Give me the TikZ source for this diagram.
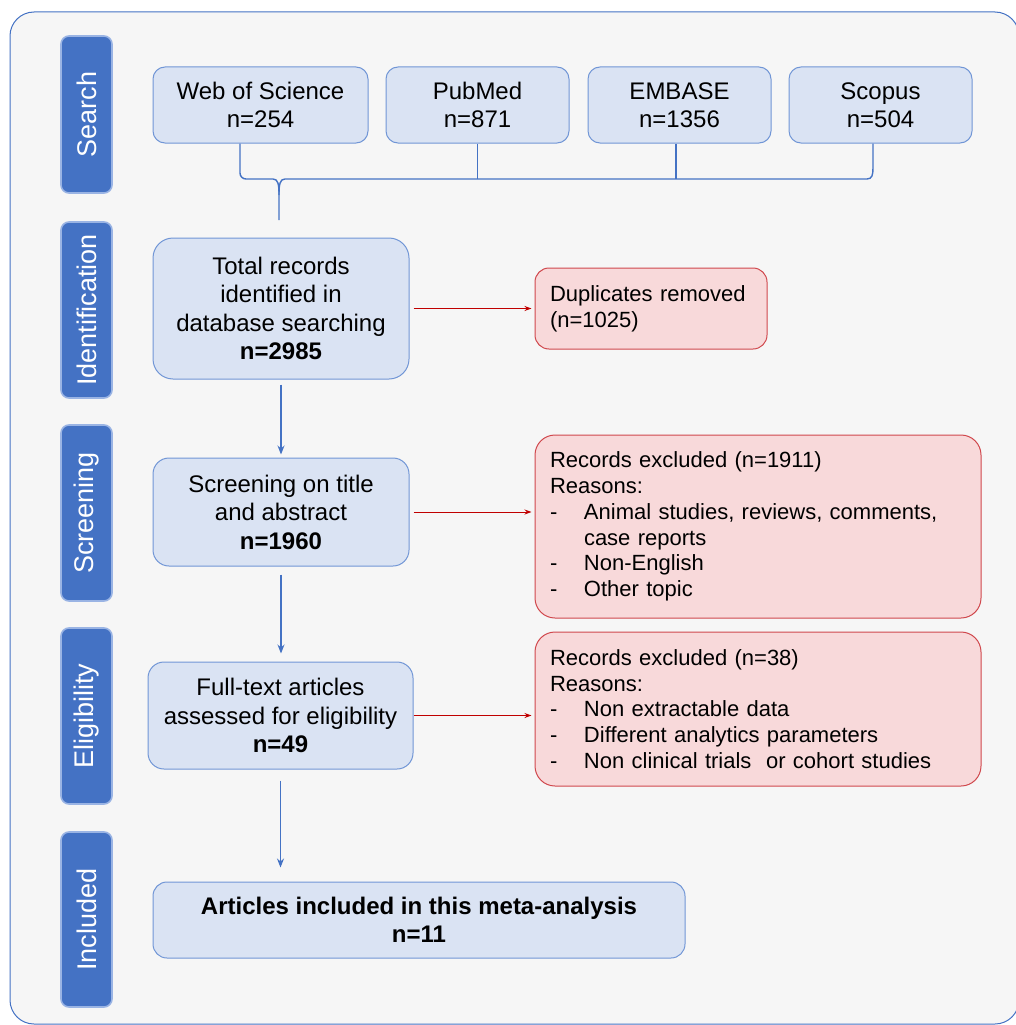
\documentclass[tikz,border=0pt]{standalone}
\usepackage{fontspec}
\setmainfont{Liberation Sans}
\usetikzlibrary{arrows.meta,calc}
\definecolor{bgfill}{HTML}{F6F6F6}
\definecolor{framecol}{HTML}{4472C4}
\definecolor{stagefill}{HTML}{4472C4}
\definecolor{stageglow}{HTML}{9AB4E4}
\definecolor{boxfill}{HTML}{DAE3F3}
\definecolor{boxedge}{HTML}{7196D6}
\definecolor{redfill}{HTML}{F8D9DA}
\definecolor{rededge}{HTML}{D0484D}
\definecolor{redline}{HTML}{C00000}
\definecolor{blueline}{HTML}{4472C4}
\tikzset{
  stagebox/.style={fill=stagefill, draw=stageglow, line width=1.6pt, rounded corners=8pt,
    rotate=90, minimum height=51pt, text=white, inner sep=0pt,
    font=\fontsize{27}{30}\selectfont},
  bluebox/.style={draw=boxedge, fill=boxfill, line width=1pt, rounded corners=14pt,
    align=center, inner sep=0pt, font=\fontsize{24}{28.5}\selectfont},
  redbox/.style={draw=rededge, fill=redfill, line width=1pt, rounded corners=20pt,
    align=left, inner xsep=15pt, inner ysep=0pt, font=\fontsize{22}{25.8}\selectfont},
  bluearrow/.style={draw=blueline, line width=1.2pt, -{Stealth[length=9pt,width=7pt]}},
  redarrow/.style={draw=redline, line width=1pt, -{Stealth[length=7pt,width=5pt]}},
  braceline/.style={draw=blueline, line width=1.4pt},
}
\newcommand{\dashitem}{\makebox[34pt][l]{-}}
\begin{document}
\begin{tikzpicture}[x=1pt,y=-1pt]
\useasboundingbox (0,0) rectangle (1015,1025);
\draw[draw=framecol, fill=bgfill, line width=1pt, rounded corners=24pt] (10,12) rectangle (1019,1024);

% stage labels
\node[stagebox, minimum width=157pt] (stsearch) at (86.5,114.5) {Search};
\node[stagebox, minimum width=176pt] (stident) at (86.5,310) {Identification};
\node[stagebox, minimum width=176pt] (stscreen) at (86.5,513) {Screening};
\node[stagebox, minimum width=176pt] (stelig) at (86.5,716) {Eligibility};
\node[stagebox, minimum width=175pt] (stincl) at (86.5,919.5) {Included};

% search boxes
\node[bluebox, rounded corners=12pt, minimum width=215pt, minimum height=76pt] (wos) at (260.5,105) {Web of Science\\n=254};
\node[bluebox, rounded corners=12pt, minimum width=183pt, minimum height=76pt] (pub) at (477.5,105) {PubMed\\n=871};
\node[bluebox, rounded corners=12pt, minimum width=183pt, minimum height=76pt] (emb) at (679.5,105) {EMBASE\\n=1356};
\node[bluebox, rounded corners=12pt, minimum width=183pt, minimum height=76pt] (sco) at (880.5,105) {Scopus\\n=504};

% main flow boxes
\node[bluebox, rounded corners=20pt, minimum width=256pt, minimum height=141pt] (total) at (281,308.5)
  {Total records\\identified in\\database searching\\\textbf{n=2985}};
\node[bluebox, rounded corners=16pt, minimum width=256pt, minimum height=108pt] (screen) at (281,512)
  {Screening on title\\and abstract\\\textbf{n=1960}};
\node[bluebox, rounded corners=16pt, minimum width=265pt, minimum height=107pt] (full) at (280.5,715.5)
  {Full-text articles\\assessed for eligibility\\\textbf{n=49}};
\node[bluebox, rounded corners=14pt, minimum width=532pt, minimum height=76pt] (incl) at (419,920)
  {\textbf{Articles included in this meta-analysis}\\\textbf{n=11}};

% exclusion boxes
\node[redbox, rounded corners=14pt, minimum width=232pt, minimum height=81pt, text width=202pt] (dup) at (651,308.5)
  {Duplicates removed\\(n=1025)};
\node[redbox, minimum width=446pt, minimum height=183pt, text width=416pt] (exc1) at (758,526.5)
  {Records excluded (n=1911)\\Reasons:\\\dashitem Animal studies, reviews, comments,\\\hspace*{34pt}case reports\\\dashitem Non-English\\\dashitem Other topic};
\node[redbox, minimum width=446pt, minimum height=154pt, text width=416pt] (exc2) at (758,709)
  {Records excluded (n=38)\\Reasons:\\\dashitem Non extractable data\\\dashitem Different analytics parameters\\\dashitem Non clinical trials\ \ or cohort studies};

% brace joining the databases
\coordinate (bracetip) at (279,220);
\draw[braceline] ($(wos.south)+(-20.5,0)$) -- (240,173) to[out=-90,in=180] (246,179) -- (273,179)
  .. controls (278,179) and (279,184) .. (279,195) -- (bracetip);
\draw[braceline] (279,195) .. controls (279,184) and (280,179) .. (285,179) -- (867,179)
  .. controls (872,179) and (873,175) .. (873,168) -- ($(sco.south)+(-7.5,0)$);
\draw[braceline] (pub.south) -- (pub.south |- 0,179);
\draw[braceline] ($(emb.south)+(-3.5,0)$) -- ($(emb.south |- 0,179)+(-3.5,0)$);

% main arrows
\draw[bluearrow, shorten <=5pt, shorten >=3pt] (total.south) -- (screen.north);
\draw[bluearrow, shorten <=8pt, shorten >=8pt] (screen.south) -- (screen.south |- full.north);
\draw[bluearrow, shorten <=11pt, shorten >=14pt] (full.south) -- (full.south |- incl.north);

% exclusion arrows
\draw[redarrow, shorten <=4pt, shorten >=3pt] (total.east) -- (dup.west);
\draw[redarrow, shorten <=4pt, shorten >=3pt] (screen.east) -- (screen.east -| exc1.west);
\draw[redarrow, shorten <=0pt, shorten >=3pt] (full.east) -- (full.east -| exc2.west);
\end{tikzpicture}
\end{document}
